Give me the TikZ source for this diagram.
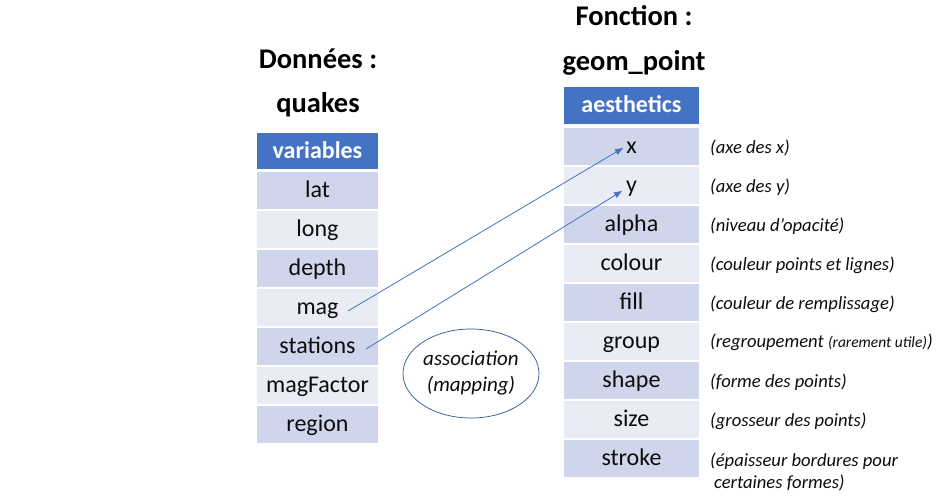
\documentclass[tikz,border=0pt]{standalone}
\usepackage{fontspec}
\setmainfont{Carlito}
\usetikzlibrary{arrows.meta,shapes.geometric,calc}
\definecolor{hdr}{HTML}{4472C4}
\definecolor{rowdark}{HTML}{CFD5EA}
\definecolor{rowlight}{HTML}{E9EBF5}
\definecolor{ellb}{HTML}{2F528F}
\definecolor{txt}{HTML}{0D0D0D}
\begin{document}
\begin{tikzpicture}[x=1pt,y=-1pt,
 cell/.style={rectangle, inner sep=0pt, minimum height=37pt, text height=14pt, text depth=0pt, font=\fontsize{24}{28}\selectfont, text=txt},
 lcell/.style={cell, minimum width=121pt},
 rcell/.style={cell, minimum width=135pt},
 hdrcell/.style={fill=hdr, text=white, font=\bfseries\fontsize{24}{28}\selectfont},
 dark/.style={fill=rowdark},
 light/.style={fill=rowlight},
 title/.style={anchor=base, font=\bfseries\fontsize{28.5}{32}\selectfont, inner sep=0pt, text=black},
 note/.style={anchor=base west, font=\itshape\fontsize{18.6}{22}\selectfont, inner sep=0pt, text=txt},
 link/.style={draw=hdr, line width=0.8pt, -{Triangle[length=8pt,width=6pt]}}]
\useasboundingbox[fill=white] (0,0) rectangle (940,496);

% titles
\node[title] (t1) at (318,68) {Données :};
\node[title] (t2) at (318,112) {quakes};
\node[title] (t3) at (634,25) {Fonction :};
\node[title] (t4) at (634,70) {geom\_point};

% left table
\node[lcell,hdrcell,minimum height=36pt] (lh) at (317.5,151) {variables};
\node[lcell,dark]  (lat)       at (317.5,190.5) {lat};
\node[lcell,light] (long)      at (317.5,229.5) {long};
\node[lcell,dark]  (depth)     at (317.5,268.5) {depth};
\node[lcell,light] (mag)       at (317.5,307.5) {mag};
\node[lcell,dark]  (stations)  at (317.5,346.5) {stations};
\node[lcell,light] (magFactor) at (317.5,385.5) {magFactor};
\node[lcell,dark]  (region)    at (317.5,424.5) {region};

% right table
\node[rcell,hdrcell] (rh) at (631.5,105.5) {aesthetics};
\node[rcell,dark]  (ax)      at (631.5,146.5) {x};
\node[rcell,light] (ay)      at (631.5,185.5) {y};
\node[rcell,dark]  (aalpha)  at (631.5,224.5) {alpha};
\node[rcell,light] (acolour) at (631.5,263.5) {colour};
\node[rcell,dark]  (afill)   at (631.5,302.5) {fill};
\node[rcell,light] (agroup)  at (631.5,341.5) {group};
\node[rcell,dark]  (ashape)  at (631.5,380.5) {shape};
\node[rcell,light] (asize)   at (631.5,419.5) {size};
\node[rcell,dark]  (astroke) at (631.5,458.5) {stroke};

% notes
\node[note] (n1) at (710,153) {(axe des x)};
\node[note] (n2) at (710,192) {(axe des y)};
\node[note] (n3) at (710,231) {(niveau d’opacité)};
\node[note] (n4) at (710,270) {(couleur points et lignes)};
\node[note] (n5) at (710,309) {(couleur de remplissage)};
\node[note] (n6) at (710,347) {(regroupement {\fontsize{15.5}{17}\selectfont(rarement utile)})};
\node[note] (n7) at (710,387) {(forme des points)};
\node[note] (n8) at (710,426) {(grosseur des points)};
\node[note,align=left] (n9) at (710,488) {(épaisseur bordures pour\\\hspace{4pt}certaines formes)};

% ellipse
\node[ellipse, draw=ellb, line width=0.7pt, minimum width=136pt, minimum height=89pt, inner sep=0pt,
      align=center, font=\itshape\fontsize{21}{26}\selectfont, text=txt] (map) at (471,373.5)
      {association\\(mapping)};

% connectors
\draw[link] ($(mag.center)+(30.5,3.5)$) -- ($(ax.center)+(-8.5,1.5)$);
\draw[link] ($(stations.center)+(48.5,2.5)$) -- ($(ay.center)+(-9.5,5.5)$);
\end{tikzpicture}
\end{document}
